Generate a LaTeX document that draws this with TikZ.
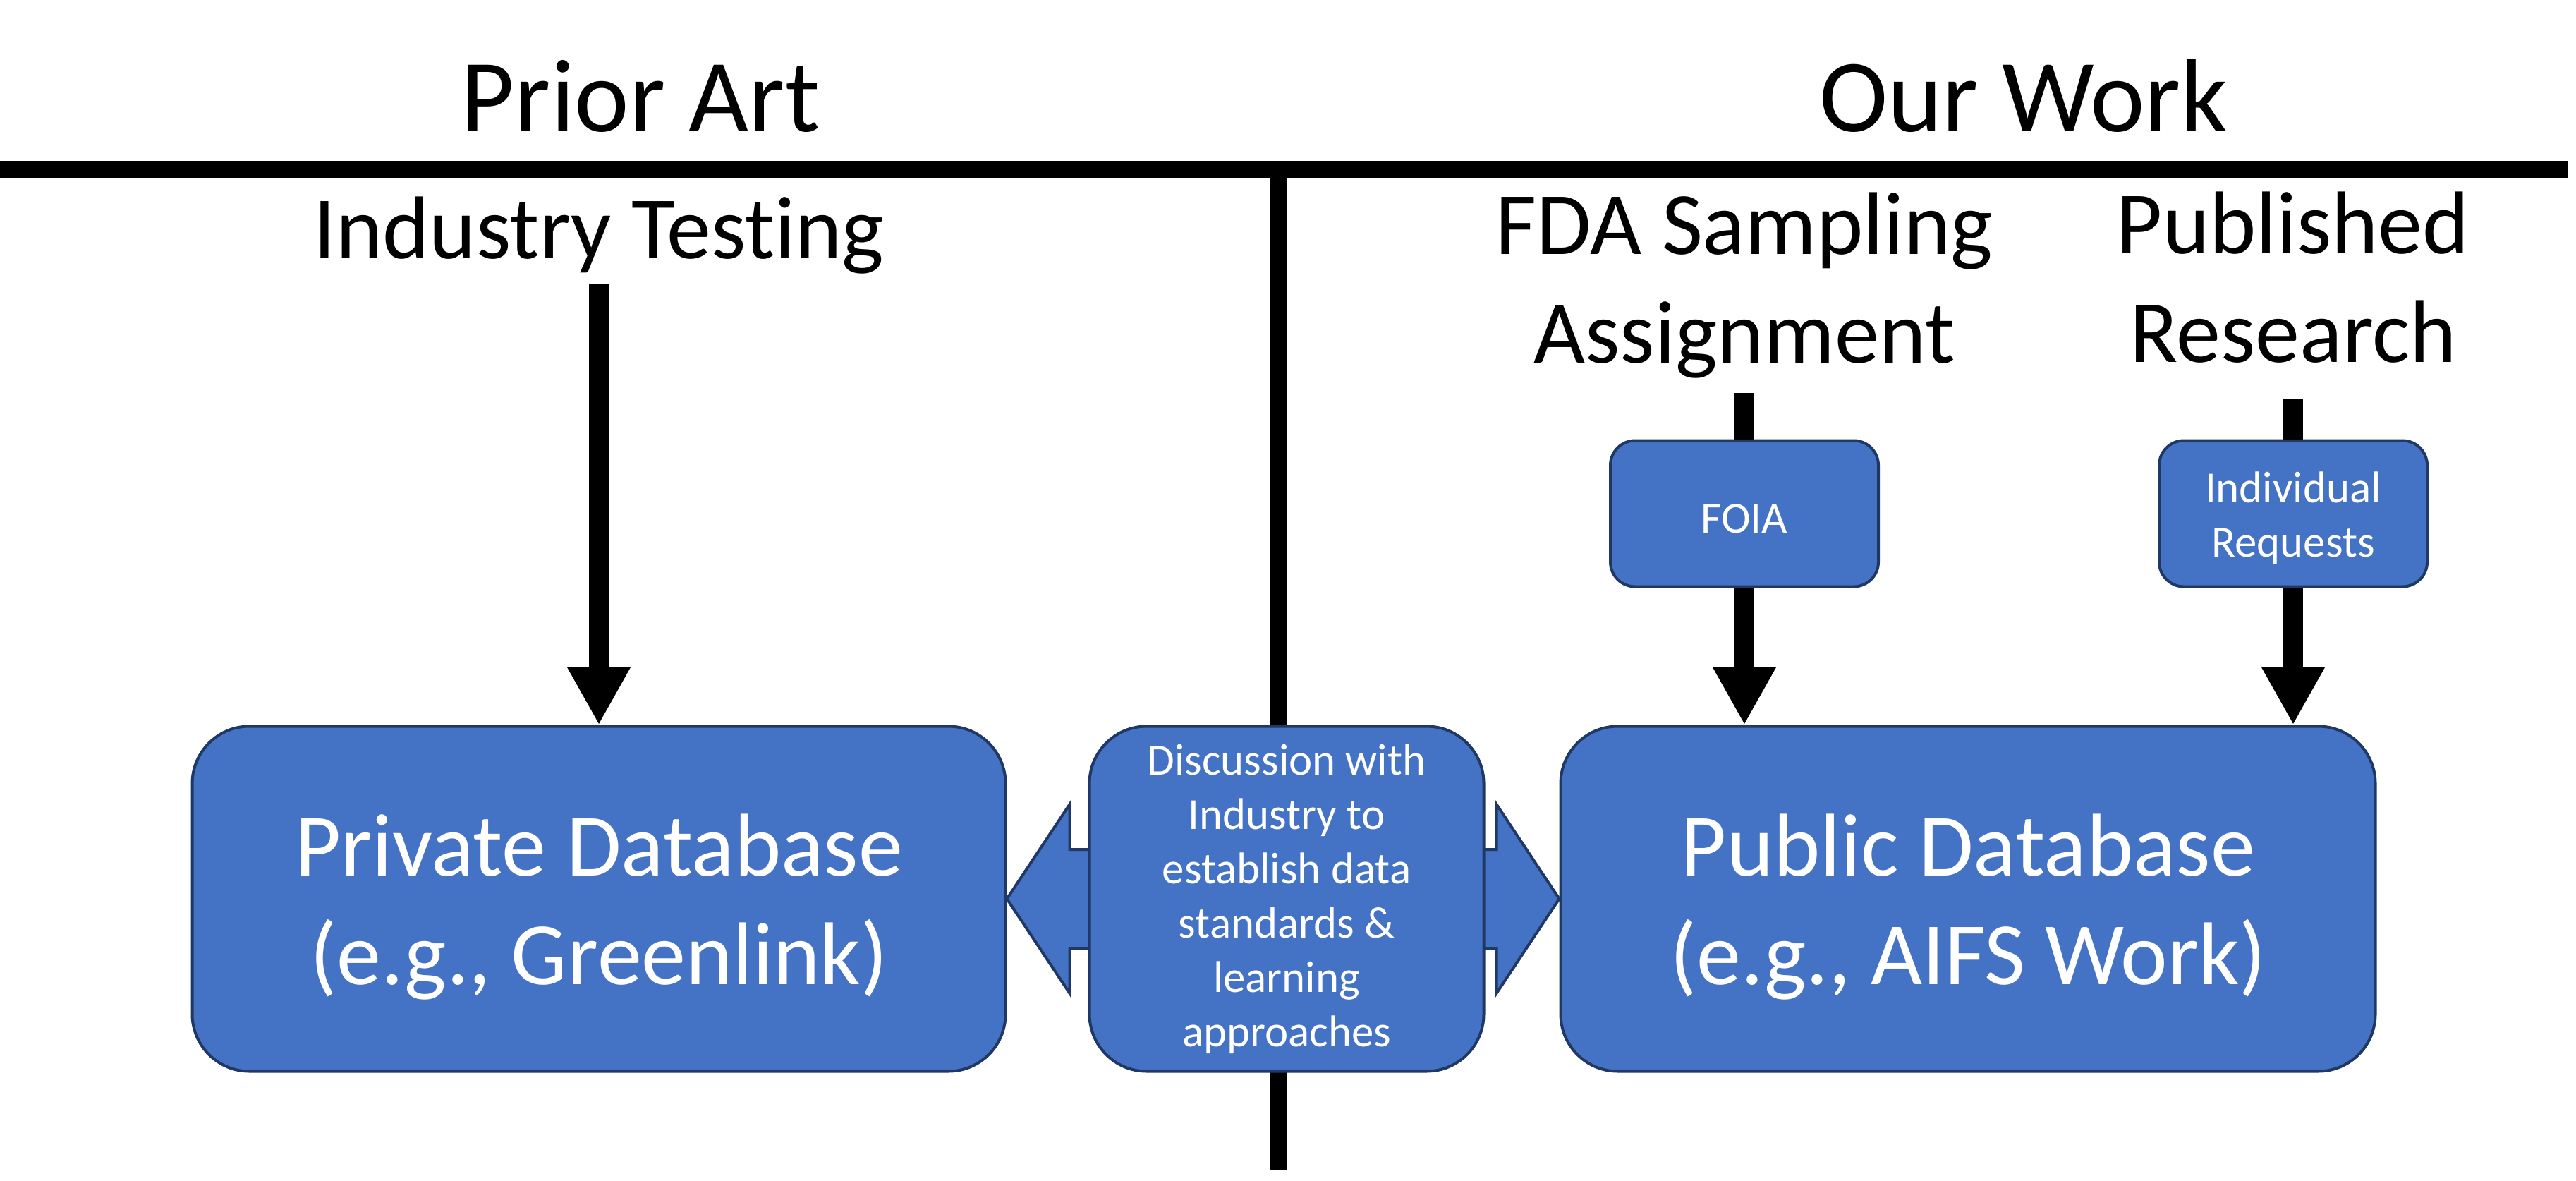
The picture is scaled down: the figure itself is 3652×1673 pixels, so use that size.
\documentclass[tikz,border=0pt]{standalone}
\usepackage{fontspec}
\setmainfont{Carlito}[Ligatures=NoCommon]
\usetikzlibrary{positioning,calc,arrows.meta}
\definecolor{boxfill}{HTML}{4472C4}
\definecolor{boxline}{HTML}{203864}
\newcommand{\lowerby}[1]{\rule{0pt}{#1}}

\begin{document}
\begin{tikzpicture}[x=0.1mm,y=-0.1mm,
    titletext/.style={inner sep=0pt, font=\fontsize{41.8}{51}\selectfont},
    headtext/.style={inner sep=0pt, align=center, font=\fontsize{35.9}{43.8}\selectfont},
    bigbox/.style={draw=boxline, fill=boxfill, line width=0.4mm,
        rounded corners=8.1mm, text=white, align=center},
    smallbox/.style={draw=boxline, fill=boxfill, line width=0.4mm,
        rounded corners=3.5mm, text=white, align=center,
        minimum width=38mm, minimum height=20.7mm,
        font=\fontsize{17.9}{21.9}\selectfont},
    rule/.style={line width=2.5mm},
    feed/.style={line width=2.8mm},
    link/.style={line width=2.8mm, -{Triangle[length=8.2mm,width=8.4mm]}}
]
\useasboundingbox (0,0) rectangle (3652,1673);

% dividers
\draw[rule] (0,240) -- (3640,240);
\coordinate (divtop) at (1812,240);
\coordinate (divbot) at (1812,1658);
\draw[rule] (divtop) -- (divbot);

% headings
\node[titletext, anchor=base] (prior) at (908,186) {Prior Art};
\node[titletext, anchor=base] (ours) at (2869,186) {Our Work};

\node[headtext, anchor=base] (industry) at (849,366) {Industry Testing};
\node[headtext] (fda) at (2473,405) {FDA Sampling\\Assignment};
\node[headtext] (published) at (3251,393) {Published\\Research};

% databases
\node[bigbox,
    minimum width=115.3mm,
    minimum height=48.9mm,
    font=\fontsize{35.9}{43.8}\selectfont
] (private) at (849,1274) {\lowerby{11.1mm}Private Database\\(e.g., Greenlink)};

\node[bigbox,
    minimum width=115.5mm,
    minimum height=48.9mm,
    font=\fontsize{35.9}{43.8}\selectfont
] (public) at (2790,1274) {\lowerby{11.1mm}Public Database\\(e.g., AIFS Work)};

% two-way arrow behind the discussion box
\draw[draw=boxline, fill=boxfill, line width=0.4mm, line join=miter]
    (private.east) -- ($(private.east)+(89,-134)$) -- ($(private.east)+(89,-70)$)
    -- ($(public.west)+(-89,-70)$) -- ($(public.west)+(-89,-134)$) -- (public.west)
    -- ($(public.west)+(-89,134)$) -- ($(public.west)+(-89,70)$)
    -- ($(private.east)+(89,70)$) -- ($(private.east)+(89,134)$) -- cycle;

\node[bigbox,
    minimum width=55.9mm,
    minimum height=48.9mm,
    font=\fontsize{17.9}{21.9}\selectfont
] (discussion) at (1824,1274) {Discussion with\\Industry to\\establish data\\standards \&\\learning\\approaches};

% request steps
\node[smallbox] (foia) at (2473,728) {\lowerby{5.6mm}FOIA};
\node[smallbox] (requests) at (3251,728) {\lowerby{5.6mm}Individual\\Requests};

\draw[link, shorten <=1.5mm] (industry) -- (private);

\draw[feed, shorten <=2mm] (fda) -- (foia);
\draw[link] (foia) -- (public.north -| foia);

\draw[feed, shorten <=5mm] (published) -- (requests);
\draw[link] (requests) -- (public.north -| requests);

\end{tikzpicture}
\end{document}
